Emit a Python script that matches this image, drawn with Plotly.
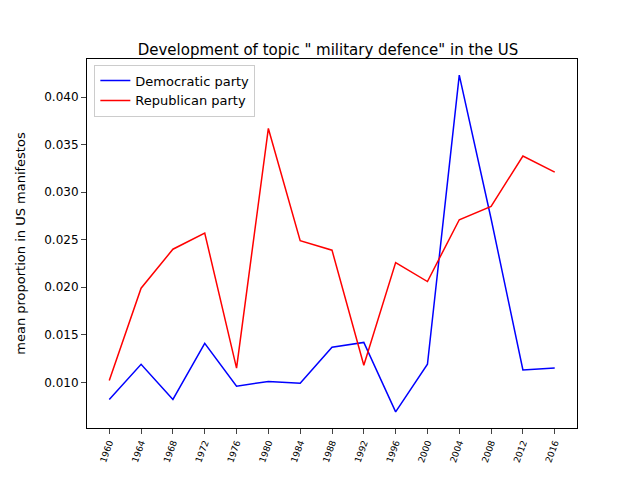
import plotly.graph_objects as go

years = [1960,1964,1968,1972,1976,1980,1984,1988,1992,1996,2000,2004,2008,2012,2016]
dem = [0.0082,0.0119,0.0082,0.0141,0.0096,0.0101,0.0099,0.0137,0.0142,0.0069,0.0119,0.0423,0.0272,0.0113,0.0115]
rep = [0.0102,0.0199,0.0240,0.0257,0.0115,0.0367,0.0249,0.0239,0.0118,0.0226,0.0206,0.0271,0.0285,0.0338,0.0321]

fig = go.Figure()
fig.add_trace(go.Scatter(x=years, y=dem, mode="lines", name="Democratic party", line=dict(color="blue", width=1.5)))
fig.add_trace(go.Scatter(x=years, y=rep, mode="lines", name="Republican party", line=dict(color="red", width=1.5)))
fig.update_layout(
    width=640, height=480, plot_bgcolor="white", paper_bgcolor="white",
    font=dict(family="DejaVu Sans", color="black", size=12),
    title=dict(text='Development of topic " military defence" in the US', x=0.5, xanchor="center", y=0.925, font=dict(size=15)),
    margin=dict(l=72, r=71, t=51, b=60),
    legend=dict(x=0.015, y=0.985, xanchor="left", yanchor="top", bordercolor="#cccccc", borderwidth=1, font=dict(size=13)),
    showlegend=True,
)
fig.update_xaxes(tickvals=years, ticktext=[str(y) for y in years], tickangle=-70, tickfont=dict(size=9),
                 range=[1957.2, 2018.8], showgrid=False, showline=True, mirror=True, linecolor="black",
                 ticks="outside", zeroline=False)
fig.update_yaxes(title_text="mean proportion in US manifestos", title_font=dict(size=13), tickformat=".3f", dtick=0.005,
                 range=[0.0052, 0.0440], showgrid=False, showline=True, mirror=True, linecolor="black",
                 ticks="outside", zeroline=False)
fig.write_html("out.html")
